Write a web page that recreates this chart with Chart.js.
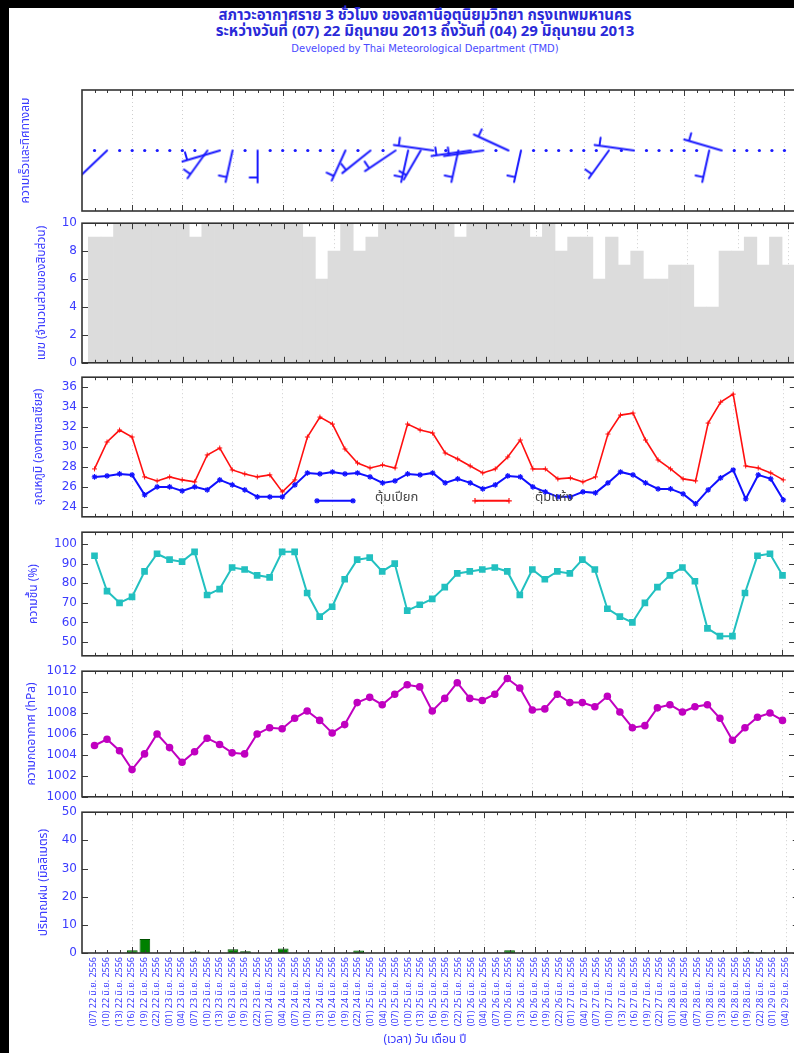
<!DOCTYPE html>
<html><head><meta charset="utf-8">
<script src="https://cdn.jsdelivr.net/npm/chart.js@4.4.1/dist/chart.umd.min.js"></script>
<style>
html,body{margin:0;padding:0;background:#fff;}
body{width:794px;height:1053px;overflow:hidden;position:relative;font-family:'Noto Sans Thai','Loma','Garuda','Tlwg Typo','DejaVu Sans',sans-serif;}
#bTop{position:absolute;left:0;top:0;width:794px;height:8px;background:#000}
#bLeft{position:absolute;left:0;top:0;width:9px;height:1053px;background:#000}
.t{position:absolute;left:0;width:850px;text-align:center;white-space:nowrap}
#t1{top:8px;font-size:15px;font-weight:bold;color:#2a2ad8;line-height:16px}
#t2{top:24px;font-size:15px;font-weight:bold;color:#2a2ad8;line-height:16px}
#t3{top:43px;font-size:10px;color:#4a4aff;font-family:'DejaVu Sans',sans-serif}
#xt{top:1030px;font-size:12px;color:#3b3bff}
canvas{position:absolute;left:0}
</style></head><body>
<div id="bTop"></div><div id="bLeft"></div>
<div class="t" id="t1">สภาวะอากาศราย 3 ชั่วโมง ของสถานีอุตุนิยมวิทยา กรุงเทพมหานคร</div>
<div class="t" id="t2">ระหว่างวันที่ (07) 22 มิถุนายน 2013 ถึงวันที่ (04) 29 มิถุนายน 2013</div>
<div class="t" id="t3">Developed by Thai Meteorological Department (TMD)</div>
<canvas id="cWind"></canvas>
<canvas id="cCloud"></canvas>
<canvas id="cTemp"></canvas>
<canvas id="cHum"></canvas>
<canvas id="cPres"></canvas>
<canvas id="cRain"></canvas>
<div class="t" id="xt">(เวลา) วัน เดือน ปี</div>
<script>
// ---------------- DATA ----------------
const LABELS = [
 '(07) 22 มิ.ย. 2556','(10) 22 มิ.ย. 2556','(13) 22 มิ.ย. 2556','(16) 22 มิ.ย. 2556','(19) 22 มิ.ย. 2556','(22) 22 มิ.ย. 2556',
 '(01) 23 มิ.ย. 2556','(04) 23 มิ.ย. 2556','(07) 23 มิ.ย. 2556','(10) 23 มิ.ย. 2556','(13) 23 มิ.ย. 2556','(16) 23 มิ.ย. 2556','(19) 23 มิ.ย. 2556','(22) 23 มิ.ย. 2556',
 '(01) 24 มิ.ย. 2556','(04) 24 มิ.ย. 2556','(07) 24 มิ.ย. 2556','(10) 24 มิ.ย. 2556','(13) 24 มิ.ย. 2556','(16) 24 มิ.ย. 2556','(19) 24 มิ.ย. 2556','(22) 24 มิ.ย. 2556',
 '(01) 25 มิ.ย. 2556','(04) 25 มิ.ย. 2556','(07) 25 มิ.ย. 2556','(10) 25 มิ.ย. 2556','(13) 25 มิ.ย. 2556','(16) 25 มิ.ย. 2556','(19) 25 มิ.ย. 2556','(22) 25 มิ.ย. 2556',
 '(01) 26 มิ.ย. 2556','(04) 26 มิ.ย. 2556','(07) 26 มิ.ย. 2556','(10) 26 มิ.ย. 2556','(13) 26 มิ.ย. 2556','(16) 26 มิ.ย. 2556','(19) 26 มิ.ย. 2556','(22) 26 มิ.ย. 2556',
 '(01) 27 มิ.ย. 2556','(04) 27 มิ.ย. 2556','(07) 27 มิ.ย. 2556','(10) 27 มิ.ย. 2556','(13) 27 มิ.ย. 2556','(16) 27 มิ.ย. 2556','(19) 27 มิ.ย. 2556','(22) 27 มิ.ย. 2556',
 '(01) 28 มิ.ย. 2556','(04) 28 มิ.ย. 2556','(07) 28 มิ.ย. 2556','(10) 28 มิ.ย. 2556','(13) 28 มิ.ย. 2556','(16) 28 มิ.ย. 2556','(19) 28 มิ.ย. 2556','(22) 28 มิ.ย. 2556',
 '(01) 29 มิ.ย. 2556','(04) 29 มิ.ย. 2556'
];
// wind direction (deg, from) and speed (knots); 0 speed = calm
const WIND_DIR = [0,220,0,0,0,0,0,0,0,210,250,190,0,180,0,0,0,0,0,0,200,0,225,0,230,190,205,280,0,190,260,260,0,300,190,0,0,0,0,0,0,210,0,280,0,0,0,0,0,190,290,0,0,0,0,0];
const WIND_SPEED = [0,3,0,0,0,0,0,0,0,5,5,5,0,5,0,0,0,0,0,0,5,0,5,0,5,5,5,5,0,5,5,5,0,5,5,0,0,0,0,0,0,5,0,5,0,0,0,0,0,5,5,0,0,0,0,0];
const CLOUD = [9,9,10,10,10,10,10,10,9,10,10,10,10,10,10,10,10,9,6,8,10,8,9,10,10,10,10,10,10,9,10,10,10,10,10,9,10,8,9,9,6,9,7,8,6,6,7,7,4,4,8,8,9,7,9,7];
const TEMP_WET = [27.0,27.1,27.3,27.2,25.2,26.0,26.0,25.6,26.0,25.7,26.7,26.2,25.7,25.0,25.0,25.0,26.2,27.4,27.3,27.5,27.3,27.4,27.0,26.4,26.6,27.3,27.2,27.4,26.4,26.8,26.4,25.8,26.2,27.1,27.0,26.0,25.5,25.0,25.0,25.5,25.4,26.4,27.5,27.2,26.4,25.8,25.8,25.3,24.3,25.7,26.9,27.7,24.8,27.2,26.8,24.7];
const TEMP_DRY = [27.8,30.5,31.7,31.0,27.0,26.6,27.0,26.7,26.5,29.2,29.9,27.7,27.3,27.0,27.2,25.5,26.7,31.0,33.0,32.3,29.8,28.4,27.9,28.2,27.9,32.3,31.7,31.4,29.4,28.8,28.1,27.4,27.8,29.0,30.7,27.8,27.8,26.8,26.9,26.5,27.0,31.3,33.2,33.4,30.7,28.7,27.8,26.8,26.6,32.4,34.5,35.3,28.1,27.9,27.4,26.7];
const HUMIDITY = [94,76,70,73,86,95,92,91,96,74,77,88,87,84,83,96,96,75,63,68,82,92,93,86,90,66,69,72,78,85,86,87,88,86,74,87,82,86,85,92,87,67,63,60,70,78,84,88,81,57,53,53,75,94,95,84];
const PRESSURE = [1004.9,1005.5,1004.4,1002.6,1004.1,1006.0,1004.7,1003.3,1004.3,1005.6,1005.0,1004.2,1004.1,1006.0,1006.6,1006.5,1007.5,1008.2,1007.3,1006.1,1006.9,1009.0,1009.5,1008.8,1009.8,1010.7,1010.5,1008.2,1009.4,1010.9,1009.4,1009.2,1009.8,1011.3,1010.4,1008.3,1008.4,1009.8,1009.0,1009.0,1008.6,1009.6,1008.1,1006.6,1006.8,1008.5,1008.8,1008.1,1008.6,1008.8,1007.5,1005.4,1006.6,1007.6,1008.0,1007.3];
const RAIN = [0,0,0,1.0,5.0,0,0,0,0.5,0,0,1.3,0.6,0,0,1.6,0,0,0,0,0,0.9,0,0,0,0,0,0,0,0,0,0,0,1.0,0,0,0,0,0,0,0,0,0,0,0,0,0,0,0,0,0,0,0.4,0.2,0,0];

const CLOUD_TICKS = [0,2,4,6,8,10];
const TEMP_TICKS = [24,26,28,30,32,34,36];
const HUM_TICKS = [50,60,70,80,90,100];
const PRES_TICKS = [1000,1002,1004,1006,1008,1010,1012];
const RAIN_TICKS = [0,10,20,30,40,50];
const LEGEND_NAMES = ['ตุ้มเปียก','ตุ้มแห้ง'];

// ---------------- STYLE / LAYOUT ----------------
const TXT_BLUE = '#3b3bff';
const NUM_FONT = "'DejaVu Sans', sans-serif";
const THAI_FONT = "'Noto Sans Thai','Loma','Garuda','Tlwg Typo','DejaVu Sans',sans-serif";
const AXIS_W = 82, PAD = 10, CANVAS_W = 801;
const WIND_COLOR = '#1a1aff';

function xy(arr){ return arr.map((v,i)=>({x:i,y:v})); }

const framePlugin = {
  id:'frame',
  beforeDatasetsDraw(chart){
    const {ctx, chartArea:a, scales:{x,y}} = chart;
    ctx.save();
    ctx.strokeStyle = '#cfcfcf'; ctx.lineWidth = 1; ctx.setLineDash([1,3]);
    for (let i=0;i<LABELS.length;i++){ if (i%4!==3) continue;
      const px = Math.round(x.getPixelForValue(i))+0.5;
      ctx.beginPath(); ctx.moveTo(px,a.top); ctx.lineTo(px,a.bottom); ctx.stroke(); }
    ctx.restore();
  },
  afterDatasetsDraw(chart){
    const {ctx, chartArea:a, scales:{x,y}} = chart;
    ctx.save();
    ctx.strokeStyle = '#3a3a3a'; ctx.lineWidth = 1;
    for (let i=0;i<LABELS.length;i++){
      const px = Math.round(x.getPixelForValue(i))+0.5;
      const len = (i%4===3) ? 6 : 3;
      ctx.beginPath(); ctx.moveTo(px,a.bottom); ctx.lineTo(px,a.bottom-len);
      ctx.moveTo(px,a.top); ctx.lineTo(px,a.top+len); ctx.stroke();
    }
    for (const t of y.ticks){
      const py = Math.round(y.getPixelForValue(t.value))+0.5;
      ctx.beginPath(); ctx.moveTo(a.left,py); ctx.lineTo(a.left+6,py);
      ctx.moveTo(a.right,py); ctx.lineTo(a.right-6,py); ctx.stroke();
    }
    ctx.lineWidth = 1.6; ctx.strokeStyle = '#333';
    ctx.strokeRect(a.left, a.top, a.right-a.left, a.bottom-a.top);
    ctx.restore();
  }
};
Chart.register(framePlugin);

function place(id, top, bottom, extraBottom){
  const c = document.getElementById(id);
  const h = (bottom-top) + PAD + (extraBottom==null ? PAD : extraBottom);
  c.width = CANVAS_W; c.height = h;
  c.style.top = (top-PAD)+'px'; c.style.width = CANVAS_W+'px'; c.style.height = h+'px';
  return c;
}

function yAxis(min, max, ticks, title, titleX, showLabels){
  return {
    type:'linear', min, max, position:'left',
    afterFit: s => { s.width = AXIS_W; },
    afterBuildTicks: s => { if (ticks) s.ticks = ticks.map(v=>({value:v})); },
    ticks:{ display: showLabels !== false, color: TXT_BLUE, font:{family:NUM_FONT, size:12}, padding:5,
      callback: v => String(v) },
    grid:{ display:false, drawTicks:false }, border:{ display:false },
    title:{ display:true, text:title, color:TXT_BLUE, font:{family:THAI_FONT, size:12}, padding:{top:titleX-7.2, bottom:0} }
  };
}
function xAxisHidden(){
  return { type:'linear', min:-1, max:56, offset:false, display:false };
}
function baseOptions(yCfg, xCfg, padBottom){
  return {
    responsive:false, animation:false, devicePixelRatio:1,
    layout:{ padding:{ left:0, right:0, top:PAD, bottom: padBottom==null?PAD:padBottom } },
    plugins:{ legend:{display:false}, tooltip:{enabled:false} },
    scales:{ x: xCfg || xAxisHidden(), y: yCfg }
  };
}

// ---- wind barbs as point styles ----
const LX = 40, LY = 32;
function barbCanvas(dir, spd){
  const S = 2*(Math.max(LX,LY)+12);
  const c = document.createElement('canvas'); c.width = c.height = S;
  const g = c.getContext('2d'); const o = S/2;
  const r = dir*Math.PI/180;
  const dx = Math.sin(r)*LX, dy = -Math.cos(r)*LY;
  const len = Math.hypot(dx,dy), ux = dx/len, uy = dy/len;
  const tx = -uy, ty = ux;
  g.strokeStyle = WIND_COLOR; g.lineWidth = 2; g.lineCap = 'round';
  g.beginPath(); g.moveTo(o,o); g.lineTo(o+dx,o+dy);
  const full = Math.floor(spd/10), half = (spd%10)>=5 ? 1 : 0;
  let pos = 0;
  for (let k=0;k<full;k++){ const bx=o+dx-ux*pos, by=o+dy-uy*pos; g.moveTo(bx,by); g.lineTo(bx+tx*12+ux*4, by+ty*12+uy*4); pos+=5; }
  if (half){ if (pos===0) pos=5; const bx=o+dx-ux*pos, by=o+dy-uy*pos; g.moveTo(bx,by); g.lineTo(bx+tx*8, by+ty*8); }
  g.stroke();
  return c;
}
const BARBS = WIND_DIR.map((d,i)=> WIND_SPEED[i]>0 ? barbCanvas(d, WIND_SPEED[i]) : 'circle');

// ---- Wind ----
new Chart(place('cWind', 90, 211), {
  type:'line',
  data:{ datasets:[{ data: WIND_SPEED.map((s,i)=>({x:i,y:0})), showLine:false,
    pointStyle: ctx => BARBS[ctx.dataIndex], pointRadius: ctx => WIND_SPEED[ctx.dataIndex]>0 ? 3 : 1.6,
    pointRotation:0, pointBackgroundColor:WIND_COLOR, pointBorderColor:WIND_COLOR, pointBorderWidth:0 }] },
  options: baseOptions(yAxis(-1, 1, [], 'ความเร็วและทิศทางลม', 27, false))
});

// ---- Cloud ----
new Chart(place('cCloud', 220.5, 365), {
  type:'bar',
  data:{ datasets:[{ data: xy(CLOUD), backgroundColor:'#dcdcdc', borderWidth:0, barPercentage:1, categoryPercentage:1 }] },
  options: baseOptions(yAxis(0, 10, CLOUD_TICKS, 'เมฆ (จำนวนส่วนของสิบส่วน)', 43))
});

// ---- Temperature ----
const tempLegend = {
  id:'tempLegend',
  afterDatasetsDraw(chart){
    const {ctx, chartArea:a} = chart;
    const yy = a.bottom - 16;
    const items = [
      {x0:a.left+235, x1:a.left+271, color:'#1010ff', style:'star', text:LEGEND_NAMES[0], tx:a.left+293},
      {x0:a.left+393, x1:a.left+427, color:'#ff1010', style:'cross', text:LEGEND_NAMES[1], tx:a.left+453}
    ];
    ctx.save();
    for (const it of items){
      ctx.strokeStyle = it.color; ctx.lineWidth = 2;
      ctx.beginPath(); ctx.moveTo(it.x0,yy); ctx.lineTo(it.x1,yy); ctx.stroke();
      ctx.lineWidth = 1.2;
      Chart.helpers.drawPoint(ctx, {pointStyle:it.style, radius:2.8, borderWidth:1.2, rotation:0}, it.x0, yy);
      Chart.helpers.drawPoint(ctx, {pointStyle:it.style, radius:2.8, borderWidth:1.2, rotation:0}, it.x1, yy);
      ctx.fillStyle = '#444'; ctx.font = "13px "+THAI_FONT; ctx.textBaseline = 'middle';
      ctx.fillText(it.text, it.tx, yy-2);
    }
    ctx.restore();
  }
};
new Chart(place('cTemp', 375, 519), {
  type:'line',
  data:{ datasets:[
    { data: xy(TEMP_WET), borderColor:'#1010ff', backgroundColor:'#1010ff', borderWidth:2, pointStyle:'star', pointRadius:2.8, pointBorderWidth:1.2, tension:0 },
    { data: xy(TEMP_DRY), borderColor:'#ff1010', backgroundColor:'#ff1010', borderWidth:1.6, pointStyle:'cross', pointRadius:2.5, pointBorderWidth:1, tension:0 }
  ]},
  options: baseOptions(yAxis(23, 37, TEMP_TICKS, 'อุณหภูมิ (องศาเซลเซียส)', 40)),
  plugins:[tempLegend]
});

// ---- Humidity ----
new Chart(place('cHum', 529.5, 658), {
  type:'line',
  data:{ datasets:[{ data: xy(HUMIDITY), borderColor:'#22c0c0', backgroundColor:'#22c0c0', borderWidth:2, pointStyle:'rect', pointRadius:3.3, tension:0 }] },
  options: baseOptions(yAxis(43, 106, HUM_TICKS, 'ความชื้น (%)', 35))
});

// ---- Pressure ----
new Chart(place('cPres', 669, 799), {
  type:'line',
  data:{ datasets:[{ data: xy(PRESSURE), borderColor:'#c000c0', backgroundColor:'#c000c0', borderWidth:2, pointStyle:'circle', pointRadius:2.8, tension:0 }] },
  options: baseOptions(yAxis(1000, 1012, PRES_TICKS, 'ความกดอากาศ (hPa)', 33))
});

// ---- Rain ----
const RAIN_TOP = 810, RAIN_BOTTOM = 953;
const rainCanvasH = 1053 - (RAIN_TOP - PAD);
const rainXAxis = {
  type:'linear', min:-1, max:56, offset:false, position:'bottom',
  afterBuildTicks: s => { s.ticks = LABELS.map((_,i)=>({value:i})); },
  afterFit: s => { s.height = rainCanvasH - PAD - (RAIN_BOTTOM-RAIN_TOP); },
  ticks:{ autoSkip:false, maxRotation:90, minRotation:90, padding:4, color:TXT_BLUE,
    font:{family:THAI_FONT, size:9}, callback:(v)=> LABELS[v] },
  grid:{ display:false, drawTicks:false }, border:{ display:false }
};
new Chart(place('cRain', RAIN_TOP, RAIN_BOTTOM, rainCanvasH - PAD - (RAIN_BOTTOM-RAIN_TOP)), {
  type:'bar',
  data:{ datasets:[{ data: xy(RAIN), backgroundColor:'#008000', borderColor:'#005000', borderWidth:1, barPercentage:0.85, categoryPercentage:1 }] },
  options: baseOptions(yAxis(0, 50, RAIN_TICKS, 'ปริมาณฝน (มิลลิเมตร)', 45), rainXAxis, 0)
});
</script>
</body></html>
